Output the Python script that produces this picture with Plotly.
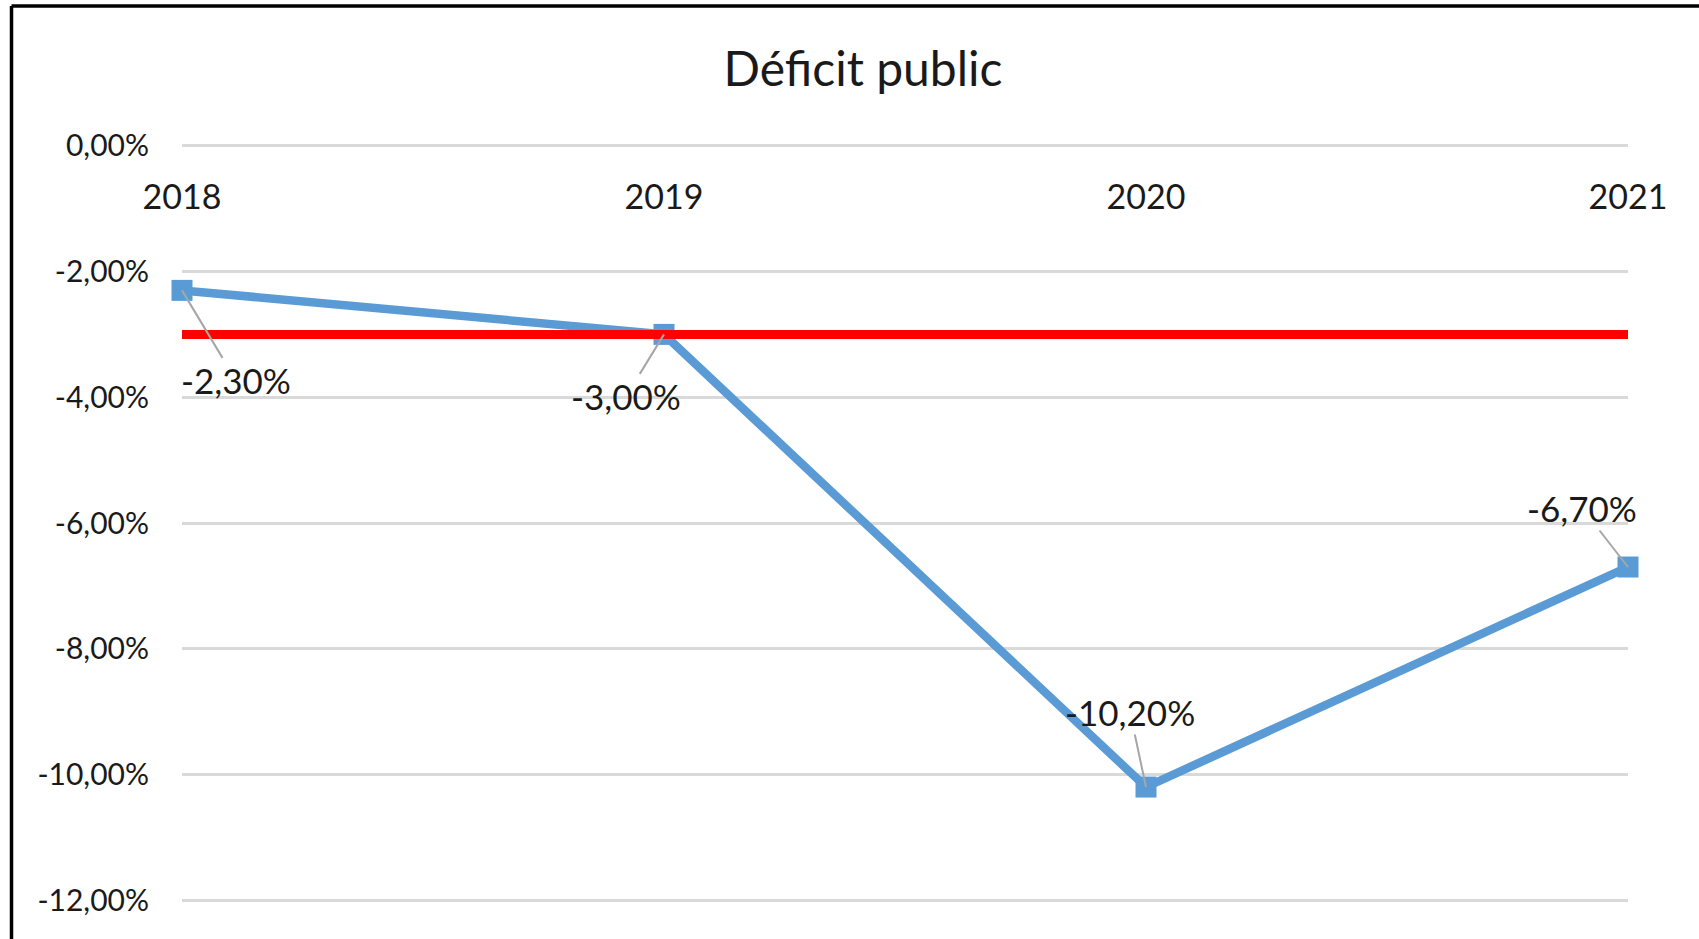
import plotly.graph_objects as go

# ---- data ----
years = [2018, 2019, 2020, 2021]
deficit = [-0.023, -0.030, -0.102, -0.067]
deficit_labels = ["-2,30%", "-3,00%", "-10,20%", "-6,70%"]
threshold_years = [2018, 2021]
threshold = [-0.03, -0.03]
y_tick_vals = [0.0, -0.02, -0.04, -0.06, -0.08, -0.10, -0.12]
y_tick_text = ["0,00%", "-2,00%", "-4,00%", "-6,00%", "-8,00%", "-10,00%", "-12,00%"]
x_tick_text = ["2018", "2019", "2020", "2021"]
title_text = "Déficit public"

# label offsets (pixels) for the data labels
label_dx = [54, -38, -16, -46]
label_dy = [90, 62, -75, -59]

W, H = 1699, 939
FONT = "Lato"
TXT = "#1a1a1a"

# desired pixel positions of the value range ends
Y_TOP_PX, Y_BOT_PX = 145.7, 900.0
Y_MAX, Y_MIN = 0.0, -0.12
PAD = 0.0006
px_per_unit = (Y_BOT_PX - Y_TOP_PX) / (Y_MAX - Y_MIN)
ML, MR = 182, W - 1628
MT = Y_TOP_PX - PAD * px_per_unit
MB = H - (Y_BOT_PX + PAD * px_per_unit)

fig = go.Figure()
fig.add_trace(go.Scatter(
    x=years, y=deficit, mode="lines+markers",
    line=dict(color="#5B9BD5", width=8.5),
    marker=dict(symbol="square", size=21, color="#5B9BD5"),
    cliponaxis=False, hoverinfo="skip", showlegend=False,
))
fig.add_trace(go.Scatter(
    x=threshold_years, y=threshold, mode="lines",
    line=dict(color="#FF0000", width=9),
    cliponaxis=False, hoverinfo="skip", showlegend=False,
))

for x, y, t, dx, dy in zip(years, deficit, deficit_labels, label_dx, label_dy):
    fig.add_annotation(
        x=x, y=y, text=t, showarrow=True, ax=dx, ay=dy,
        arrowhead=0, arrowwidth=2, arrowcolor="#A6A6A6", standoff=0,
        font=dict(family=FONT, size=35, color=TXT),
    )

# frame lines (left and top only, as in the reference)
pw = W - ML - MR
ph = H - MT - MB
def px_x(p):
    return (p - ML) / pw
def px_y(p):
    return 1 - (p - MT) / ph
fig.add_shape(type="line", xref="paper", yref="paper",
              x0=px_x(11.5), x1=px_x(W + 5), y0=px_y(6), y1=px_y(6),
              line=dict(color="black", width=3.5))
fig.add_shape(type="line", xref="paper", yref="paper",
              x0=px_x(11.5), x1=px_x(11.5), y0=px_y(6), y1=px_y(H + 5),
              line=dict(color="black", width=3.5))

fig.update_layout(
    width=W, height=H,
    margin=dict(l=ML, r=MR, t=MT, b=MB, pad=0),
    paper_bgcolor="white", plot_bgcolor="white",
    font=dict(family=FONT, color=TXT),
    title=dict(text=title_text, x=863 / W, xref="container", xanchor="center",
               y=1 - 69 / H, yref="container", yanchor="middle",
               font=dict(family=FONT, size=48, color=TXT)),
    xaxis=dict(
        range=[2018, 2021], tickvals=years, ticktext=x_tick_text,
        anchor="free", position=1 - (Y_TOP_PX - MT) / ph, side="bottom",
        showgrid=False, zeroline=False, showline=False,
        ticks="", ticklabelstandoff=28,
        tickfont=dict(family=FONT, size=34, color=TXT),
    ),
    yaxis=dict(
        range=[Y_MIN - PAD, Y_MAX + PAD], tickvals=y_tick_vals, ticktext=y_tick_text,
        showgrid=True, gridcolor="#D9D9D9", gridwidth=2.5,
        zeroline=False, showline=False, ticks="", ticklabelstandoff=32,
        tickfont=dict(family=FONT, size=30, color=TXT),
    ),
)

fig.write_html("out.html", config={"displayModeBar": False},
               post_script="document.body.style.margin='0';")
